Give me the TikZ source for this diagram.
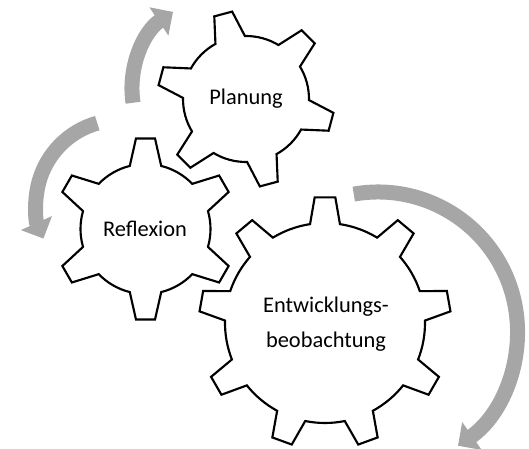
\documentclass[tikz,border=0pt]{standalone}
\usepackage{fontspec}
\setmainfont{Carlito}
\usepackage{tikz}
\usetikzlibrary{calc,arrows.meta}

\definecolor{arrowgray}{RGB}{166,166,166}

% gear outline: centre, teeth, first tooth angle, root radius, tip radius, tip half angle, base half angle
\newcommand{\gearpath}[7]{%
  \pgfmathsetmacro{\gstep}{360/#2}
  \draw[gear] ($(#1)+({#3-#7}:#4)$)
    \foreach \k in {1,...,#2}{
      -- ($(#1)+({#3+(\k-1)*\gstep-#6}:#5)$)
      -- ($(#1)+({#3+(\k-1)*\gstep+#6}:#5)$)
      -- ($(#1)+({#3+(\k-1)*\gstep+#7}:#4)$)
      arc[start angle={#3+(\k-1)*\gstep+#7}, end angle={#3+\k*\gstep-#7}, radius=#4]
    } -- cycle;
}

\begin{document}
\begin{tikzpicture}[x=0.75pt,y=0.75pt,yscale=-1,xscale=1,
  gear/.style={draw=black, line width=1.6pt, fill=white},
  cyclearrow/.style={draw=arrowgray, line width=11.25pt, -{Triangle[width=24.75pt,length=12.75pt]}},
  gearlabel/.style={inner sep=0pt, align=center, font=\fontsize{16.8pt}{26.6pt}\selectfont}]
\useasboundingbox (0,0) rectangle (529,449);

% Centres
\coordinate (cPlan) at (246,99);
\coordinate (cRefl) at (145.5,229);
\coordinate (cEntw) at (325,323);
\coordinate (aPlan) at (225,89);
\coordinate (aRefl) at (120,204);
\coordinate (aEntw) at (378,331.5);

% Arrow
\draw[cyclearrow] ($(aPlan)+(171.5:93)$) arc[start angle=171.5, end angle=236, radius=93];
% Arrow
\draw[cyclearrow] ($(aRefl)+(254.3:84)$) arc[start angle=254.3, end angle=155.7, radius=84];
% Arrow
\draw[cyclearrow] ($(aEntw)+(-100:139.5)$) arc[start angle=-100, end angle=55, radius=139.5];

% Gear
\gearpath{cPlan}{6}{-105}{63}{88.5}{6}{14}
% Gear
\gearpath{cRefl}{6}{-90}{65}{91}{6}{14}
% Gear
\gearpath{cEntw}{9}{-90}{100}{126}{4.7}{8.6}

% Text Node
\node[gearlabel] (planung) at (246,99) {Planung};
% Text Node
\node[gearlabel] (reflexion) at (145,229) {Reflexion};
% Text Node
\node[gearlabel] (entwicklung) at (326,324) {Entwicklungs-\\beobachtung};

\end{tikzpicture}
\end{document}
